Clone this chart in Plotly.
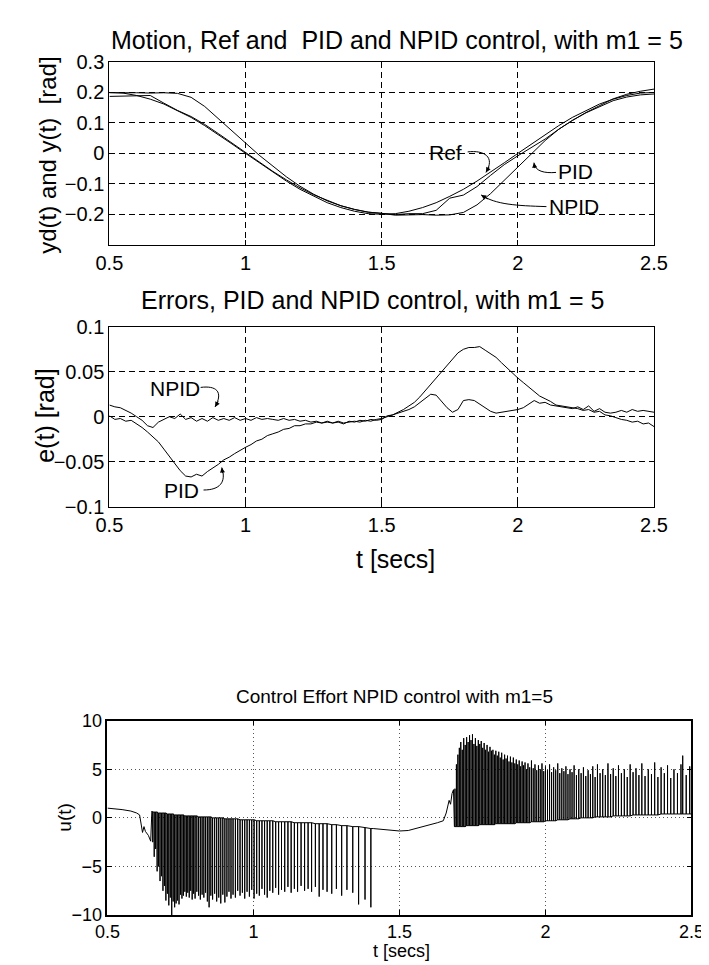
import plotly.graph_objects as go

W, H = 709, 965
FONT = "Liberation Sans, Arial, Helvetica, sans-serif"

# ---------------- data: top panel (motion) ----------------
t_top = [0.50, 0.55, 0.60, 0.65, 0.70, 0.75, 0.80, 0.85, 0.90, 0.95,
         1.00, 1.05, 1.10, 1.15, 1.20, 1.25, 1.30, 1.35, 1.40, 1.45,
         1.50, 1.55, 1.60, 1.65, 1.70, 1.75, 1.80, 1.85, 1.90, 1.95,
         2.00, 2.05, 2.10, 2.15, 2.20, 2.25, 2.30, 2.35, 2.40, 2.45, 2.50]
y_ref = [0.200, 0.198, 0.190, 0.178, 0.162, 0.141, 0.118, 0.091, 0.062, 0.031,
         0.000, -0.031, -0.062, -0.091, -0.118, -0.141, -0.162, -0.178, -0.190, -0.198,
         -0.200, -0.198, -0.190, -0.178, -0.162, -0.141, -0.118, -0.091, -0.062, -0.031,
         0.000, 0.031, 0.062, 0.091, 0.118, 0.141, 0.162, 0.178, 0.190, 0.198, 0.200]
y_pid = [0.199, 0.200, 0.199, 0.198, 0.199, 0.197, 0.184, 0.154, 0.113, 0.073,
         0.034, -0.006, -0.043, -0.077, -0.108, -0.134, -0.156, -0.172, -0.184, -0.193,
         -0.197, -0.203, -0.202, -0.201, -0.203, -0.202, -0.194, -0.169, -0.132, -0.088,
         -0.043, 0.001, 0.042, 0.079, 0.108, 0.134, 0.156, 0.179, 0.194, 0.204, 0.211]
y_npid = [0.187, 0.188, 0.190, 0.190, 0.165, 0.141, 0.121, 0.095, 0.065, 0.034,
          0.003, -0.029, -0.059, -0.087, -0.113, -0.136, -0.155, -0.172, -0.184, -0.193,
          -0.197, -0.201, -0.198, -0.198, -0.187, -0.147, -0.137, -0.109, -0.072, -0.037,
          -0.008, 0.019, 0.047, 0.079, 0.108, 0.133, 0.154, 0.173, 0.185, 0.192, 0.195]

# ---------------- data: middle panel (errors) ----------------
t_err = [round(0.50 + 0.02 * i, 2) for i in range(101)]
e_pid = [0.001, -0.003, -0.002, -0.005, -0.004, -0.008, -0.012, -0.017, -0.022, -0.028,
         -0.036, -0.044, -0.052, -0.060, -0.066, -0.067, -0.064, -0.066, -0.061, -0.057,
         -0.053, -0.048, -0.045, -0.041, -0.037, -0.034, -0.031, -0.027, -0.025, -0.021,
         -0.019, -0.017, -0.014, -0.013, -0.010, -0.010, -0.008, -0.008, -0.006, -0.007,
         -0.005, -0.007, -0.006, -0.008, -0.005, -0.006, -0.004, -0.005, -0.003, -0.004,
         -0.003, 0.001, 0.002, 0.005, 0.008, 0.012, 0.016, 0.022, 0.029, 0.036,
         0.044, 0.051, 0.058, 0.065, 0.071, 0.075, 0.077, 0.077, 0.078, 0.074,
         0.070, 0.066, 0.060, 0.054, 0.048, 0.043, 0.038, 0.033, 0.028, 0.023,
         0.020, 0.017, 0.013, 0.012, 0.011, 0.010, 0.009, 0.007, 0.008, 0.005,
         0.006, 0.002, 0.001, -0.001, -0.003, -0.004, -0.006, -0.005, -0.008, -0.007,
         -0.011]
e_npid = [0.013, 0.011, 0.010, 0.007, 0.004, 0.000, -0.004, -0.010, -0.012, -0.006,
          -0.003, 0.000, -0.002, 0.003, -0.003, -0.001, -0.005, -0.002, -0.005, -0.001,
          -0.004, -0.002, -0.004, -0.001, -0.004, -0.002, -0.004, -0.001, -0.003, -0.002,
          -0.003, -0.004, -0.002, -0.004, -0.003, -0.005, -0.004, -0.006, -0.005, -0.007,
          -0.006, -0.007, -0.005, -0.007, -0.006, -0.005, -0.006, -0.004, -0.005, -0.003,
          -0.002, 0.000, 0.002, 0.004, 0.006, 0.008, 0.011, 0.016, 0.021, 0.025,
          0.024, 0.017, 0.010, 0.005, 0.008, 0.018, 0.019, 0.018, 0.014, 0.010,
          0.006, 0.004, 0.005, 0.006, 0.007, 0.008, 0.010, 0.014, 0.018, 0.015,
          0.016, 0.013, 0.012, 0.011, 0.010, 0.009, 0.011, 0.008, 0.012, 0.006,
          0.009, 0.005, 0.004, 0.005, 0.007, 0.005, 0.008, 0.006, 0.007, 0.006,
          0.005]

# ---------------- data: bottom panel (control effort) ----------------
seg1_t = [0.50, 0.52, 0.55, 0.58, 0.60, 0.61, 0.62, 0.625, 0.63, 0.64, 0.648, 0.652]
seg1_u = [1.0, 0.95, 0.85, 0.7, 0.5, 0.3, -1.5, -0.9, -1.4, -1.8, -2.4, 0.7]

down_t = [0.655, 0.660, 0.665, 0.670, 0.675, 0.680, 0.685, 0.690, 0.695, 0.700,
          0.705, 0.710, 0.715, 0.720, 0.725, 0.730, 0.735, 0.740, 0.745, 0.750,
          0.755, 0.760, 0.765, 0.770, 0.775, 0.780, 0.785, 0.790, 0.795, 0.800,
          0.806, 0.812, 0.818, 0.824, 0.830, 0.836, 0.842, 0.848, 0.854, 0.860,
          0.867, 0.874, 0.881, 0.888, 0.895, 0.902, 0.909, 0.916, 0.923, 0.930,
          0.938, 0.946, 0.954, 0.962, 0.970, 0.978, 0.986, 0.994, 1.002, 1.011,
          1.020, 1.029, 1.038, 1.047, 1.056, 1.066, 1.076, 1.086, 1.096, 1.107,
          1.118, 1.129, 1.140, 1.151, 1.163, 1.175, 1.187, 1.199, 1.212, 1.225,
          1.238, 1.252, 1.268, 1.284, 1.302, 1.320, 1.340, 1.360, 1.382, 1.402]
down_tip = [-2.5, -4.0, -3.2, -5.5, -5.0, -6.5, -6.0, -7.5, -7.0, -8.5,
            -7.8, -9.0, -8.2, -10.0, -8.6, -9.2, -8.8, -8.5, -8.9, -7.9,
            -8.3, -8.0, -7.6, -8.1, -7.7, -8.2, -7.5, -8.4, -7.8, -8.3,
            -7.6, -8.0, -8.4, -7.9, -8.2, -7.7, -8.6, -9.2, -8.0, -8.4,
            -7.8, -8.6, -8.2, -8.8, -7.9, -8.7, -8.1, -7.6, -8.3, -7.9,
            -8.2, -7.5, -8.0, -7.7, -8.3, -7.6, -8.1, -7.4, -8.3, -7.8,
            -8.0, -7.3, -7.9, -8.2, -7.5, -7.7, -7.2, -7.9, -7.4, -7.6,
            -7.1, -7.7, -7.3, -7.6, -7.0, -7.5, -7.3, -7.6, -7.1, -8.1,
            -7.4, -7.6, -7.8, -7.3, -8.0, -7.4, -7.7, -8.9, -8.4, -9.2]
down_base = [0.6, 0.6, 0.6, 0.6, 0.5, 0.5, 0.5, 0.5, 0.5, 0.5,
             0.4, 0.4, 0.4, 0.4, 0.4, 0.3, 0.3, 0.3, 0.3, 0.3,
             0.3, 0.3, 0.2, 0.2, 0.2, 0.2, 0.2, 0.2, 0.2, 0.2,
             0.2, 0.1, 0.1, 0.1, 0.1, 0.1, 0.1, 0.1, 0.1, 0.0,
             0.0, 0.0, 0.0, 0.0, 0.0, -0.1, -0.1, -0.1, -0.1, -0.1,
             -0.1, -0.1, -0.2, -0.2, -0.2, -0.2, -0.2, -0.2, -0.2, -0.3,
             -0.3, -0.3, -0.3, -0.3, -0.3, -0.3, -0.4, -0.4, -0.4, -0.4,
             -0.4, -0.4, -0.5, -0.5, -0.5, -0.5, -0.5, -0.5, -0.6, -0.6,
             -0.6, -0.6, -0.7, -0.7, -0.8, -0.8, -0.9, -0.9, -1.0, -1.1]

seg2_t = [1.41, 1.45, 1.50, 1.53, 1.57, 1.60, 1.63, 1.65, 1.66, 1.67, 1.675, 1.68, 1.685, 1.688]
seg2_u = [-1.1, -1.2, -1.35, -1.3, -1.0, -0.8, -0.5, -0.3, 0.5, 1.8, 1.4, 2.5, 2.9, -0.9]

up_t = [1.690, 1.695, 1.700, 1.705, 1.710, 1.715, 1.720, 1.725, 1.730, 1.735,
        1.740, 1.745, 1.750, 1.755, 1.760, 1.765, 1.770, 1.775, 1.780, 1.785,
        1.790, 1.795, 1.800, 1.805, 1.810, 1.815, 1.820, 1.825, 1.830, 1.835,
        1.840, 1.845, 1.850, 1.855, 1.860, 1.865, 1.870, 1.875, 1.880, 1.885,
        1.890, 1.895, 1.900, 1.905, 1.910, 1.915, 1.920, 1.925, 1.930, 1.935,
        1.940, 1.946, 1.952, 1.958, 1.964, 1.970, 1.976, 1.982, 1.988, 1.994,
        2.000, 2.007, 2.014, 2.021, 2.028, 2.035, 2.042, 2.049, 2.056, 2.063,
        2.070, 2.077, 2.084, 2.091, 2.098, 2.106, 2.114, 2.122, 2.130, 2.138,
        2.146, 2.154, 2.162, 2.170, 2.178, 2.187, 2.196, 2.205, 2.214, 2.223,
        2.232, 2.241, 2.250, 2.260, 2.270, 2.280, 2.290, 2.300, 2.310, 2.320,
        2.330, 2.341, 2.352, 2.363, 2.374, 2.385, 2.396, 2.407, 2.418, 2.429,
        2.440, 2.452, 2.464, 2.470, 2.482, 2.494]
up_tip = [3.0, 5.5, 6.5, 7.2, 7.8, 7.0, 8.2, 7.5, 8.3, 7.8,
          8.5, 8.0, 8.6, 7.6, 8.2, 7.4, 8.0, 7.6, 7.9, 7.2,
          7.7, 7.0, 7.5, 6.8, 7.3, 6.9, 7.0, 6.5, 6.9, 6.4,
          6.8, 6.2, 6.7, 6.0, 6.5, 6.1, 6.4, 5.8, 6.3, 5.7,
          6.2, 5.6, 6.0, 5.5, 5.9, 5.3, 5.8, 5.4, 5.7, 5.0,
          5.6, 5.2, 5.9, 5.1, 5.5, 4.9, 5.4, 5.0, 5.6, 4.8,
          5.3, 4.9, 5.5, 4.7, 5.2, 4.9, 5.6, 4.6, 5.1, 4.8,
          5.3, 4.5, 5.0, 4.7, 5.4, 4.4, 5.0, 4.6, 5.2, 4.3,
          4.9, 4.5, 5.3, 4.2, 5.5, 4.6, 5.0, 4.4, 5.6, 4.5,
          5.1, 4.3, 5.4, 4.6, 5.0, 4.2, 5.5, 4.7, 5.1, 4.4,
          5.6, 4.3, 5.0, 4.5, 5.7, 4.2, 5.2, 4.6, 5.4, 4.1,
          5.0, 4.6, 5.5, 6.4, 4.4, 5.3]
up_base = [-0.9, -0.9, -0.9, -0.9, -0.9, -0.9, -0.9, -0.9, -0.8, -0.8,
           -0.8, -0.8, -0.8, -0.8, -0.8, -0.8, -0.8, -0.7, -0.7, -0.7,
           -0.7, -0.7, -0.7, -0.7, -0.7, -0.7, -0.7, -0.7, -0.6, -0.6,
           -0.6, -0.6, -0.6, -0.6, -0.6, -0.6, -0.6, -0.6, -0.6, -0.6,
           -0.6, -0.6, -0.5, -0.5, -0.5, -0.5, -0.5, -0.5, -0.5, -0.5,
           -0.5, -0.5, -0.4, -0.4, -0.4, -0.4, -0.4, -0.4, -0.4, -0.4,
           -0.3, -0.3, -0.3, -0.3, -0.3, -0.3, -0.2, -0.2, -0.2, -0.2,
           -0.2, -0.2, -0.1, -0.1, -0.1, -0.1, -0.1, 0.0, 0.0, 0.0,
           0.0, 0.0, 0.0, 0.1, 0.1, 0.1, 0.1, 0.1, 0.1, 0.1,
           0.2, 0.2, 0.2, 0.2, 0.2, 0.2, 0.2, 0.3, 0.3, 0.3,
           0.3, 0.3, 0.3, 0.3, 0.3, 0.3, 0.4, 0.4, 0.4, 0.4,
           0.4, 0.4, 0.4, 0.4, 0.4, 0.4]
end_t = [2.50]
end_u = [0.4]

# ---------------- tick labels ----------------
x_ticks = [0.5, 1, 1.5, 2, 2.5]
x_ticktext = ["0.5", "1", "1.5", "2", "2.5"]
y1_ticks = [-0.2, -0.1, 0, 0.1, 0.2, 0.3]
y1_ticktext = ["\u22120.2", "\u22120.1", "0", "0.1", "0.2", "0.3"]
y2_ticks = [-0.1, -0.05, 0, 0.05, 0.1]
y2_ticktext = ["\u22120.1", "\u22120.05", "0", "0.05", "0.1"]
y3_ticks = [-10, -5, 0, 5, 10]
y3_ticktext = ["\u221210", "\u22125", "0", "5", "10"]

# ---------------- build control-effort line ----------------
u_x, u_y = list(seg1_t), list(seg1_u)
for t, b, p in zip(down_t, down_base, down_tip):
    u_x += [t, t, t]
    u_y += [b, p, b]
u_x += seg2_t
u_y += seg2_u
for t, b, p in zip(up_t, up_base, up_tip):
    u_x += [t, t, t]
    u_y += [b, p, b]
u_x += end_t
u_y += end_u

line = dict(color="black", width=1)
fig = go.Figure()
fig.add_trace(go.Scatter(x=t_top, y=y_ref, mode="lines", line=line, xaxis="x", yaxis="y"))
fig.add_trace(go.Scatter(x=t_top, y=y_pid, mode="lines", line=line, xaxis="x", yaxis="y"))
fig.add_trace(go.Scatter(x=t_top, y=y_npid, mode="lines", line=line, xaxis="x", yaxis="y"))
fig.add_trace(go.Scatter(x=t_err, y=e_pid, mode="lines", line=line, xaxis="x2", yaxis="y2"))
fig.add_trace(go.Scatter(x=t_err, y=e_npid, mode="lines", line=line, xaxis="x2", yaxis="y2"))
fig.add_trace(go.Scatter(x=u_x, y=u_y, mode="lines", line=dict(color="black", width=1),
                         xaxis="x3", yaxis="y3"))


def px_x(p):
    return p / W


def px_y(p):
    return 1 - p / H


def axis_common(size, lw=1.2):
    return dict(showline=True, linecolor="black", linewidth=lw, mirror="allticks",
                ticks="inside", ticklen=5, tickcolor="black", zeroline=False,
                tickfont=dict(family=FONT, size=size, color="black"))


dash_grid = dict(showgrid=True, gridcolor="black", gridwidth=1, griddash="6px,4px")
dot_grid = dict(showgrid=True, gridcolor="#555555", gridwidth=1, griddash="1px,3px")

top_dom_x = [px_x(91), px_x(658)]
bot_dom_x = [px_x(89), px_x(697)]

fig.update_layout(
    width=W, height=H, autosize=False,
    margin=dict(l=0, r=0, t=0, b=0),
    paper_bgcolor="white", plot_bgcolor="white",
    showlegend=False,
    font=dict(family=FONT, color="black"),
    xaxis=dict(domain=top_dom_x, anchor="y", range=[0.5, 2.5], tickvals=x_ticks,
               ticktext=x_ticktext, **axis_common(20), **dash_grid),
    yaxis=dict(domain=[px_y(231), px_y(44)], anchor="x", range=[-0.3, 0.3],
               tickvals=y1_ticks, ticktext=y1_ticktext, **axis_common(20), **dash_grid),
    xaxis2=dict(domain=top_dom_x, anchor="y2", range=[0.5, 2.5], tickvals=x_ticks,
                ticktext=x_ticktext, **axis_common(20), **dash_grid),
    yaxis2=dict(domain=[px_y(499), px_y(315)], anchor="x2", range=[-0.1, 0.1],
                tickvals=y2_ticks, ticktext=y2_ticktext, **axis_common(20), **dash_grid),
    xaxis3=dict(domain=bot_dom_x, anchor="y3", range=[0.5, 2.5], tickvals=x_ticks,
                ticktext=x_ticktext, **axis_common(18, 1.6), **dot_grid),
    yaxis3=dict(domain=[px_y(917), px_y(718)], anchor="x3", range=[-10, 10],
                tickvals=y3_ticks, ticktext=y3_ticktext, **axis_common(18, 1.6), **dot_grid),
)


def label(text, x, y, size, angle=0):
    return dict(text=text, xref="paper", yref="paper", x=px_x(x), y=px_y(y),
                xanchor="center", yanchor="middle", showarrow=False, textangle=angle,
                font=dict(family=FONT, size=size, color="black"))


ann = [
    label("Motion, Ref and  PID and NPID control, with m1 = 5", 390, 21, 25),
    label("yd(t) and y(t)  [rad]", 27, 139, 24, -90),
    label("Errors, PID and NPID control, with m1 = 5", 365, 288, 25),
    label("e(t) [rad]", 24, 406, 25, -90),
    label("t [secs]", 389, 553, 25),
    label("Control Effort NPID control with m1=5", 388, 693, 19),
    label("u(t)", 44, 817, 19, -90),
    label("t [secs]", 395, 954, 18),
    # curve labels
    label("Ref", 441, 137, 21),
    label("PID", 576, 156, 21),
    label("NPID", 575, 192, 21),
    label("NPID", 159, 378, 21),
    label("PID", 166, 482, 21),
]

# curved leader lines (pixel geometry of the annotation pointers)
pointers = [
    # (start, ctrl1, ctrl2, tip, arrow-tail offset from tip)
    ((464, 136), (481, 134), (493, 141), (483, 157), (4, -7)),
    ((556, 157), (544, 158), (534, 156), (533, 147), (1, 7)),
    ((546, 192), (515, 191), (493, 190), (478, 180), (8, 5)),
    ((186, 377), (202, 375), (210, 381), (201, 397), (4, -7)),
    ((189, 482), (206, 482), (213, 474), (208, 459), (1, 7)),
]
shapes = []
for s, c1, c2, tip, off in pointers:
    path = "M {} {} C {} {} {} {} {} {}".format(
        px_x(s[0]), px_y(s[1]), px_x(c1[0]), px_y(c1[1]),
        px_x(c2[0]), px_y(c2[1]), px_x(tip[0]), px_y(tip[1]))
    shapes.append(dict(type="path", path=path, xref="paper", yref="paper",
                       line=dict(color="black", width=1)))
    ann.append(dict(text="", xref="paper", yref="paper", x=px_x(tip[0]), y=px_y(tip[1]),
                    ax=off[0], ay=off[1], showarrow=True, arrowhead=2, arrowsize=1,
                    arrowwidth=1, arrowcolor="black", standoff=0))

fig.update_layout(annotations=ann, shapes=shapes)

fig.write_html("out.html")
